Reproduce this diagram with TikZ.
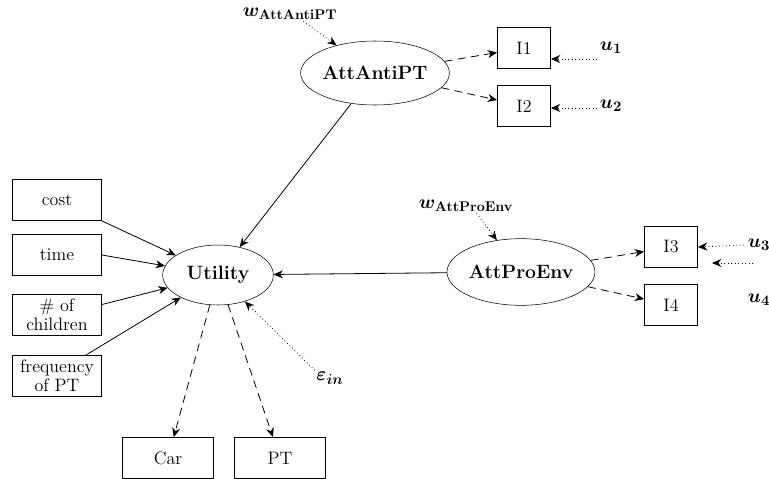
\documentclass[tikz,border=0pt]{standalone}
\usepackage{amsmath, amssymb}
\usepackage{fontspec}
\usepackage{bm}
\usepackage{tikz}
\usetikzlibrary{
  arrows.meta, positioning, shapes.geometric, calc
}

\tikzset{
  latent/.style={ellipse, draw, thin, inner sep=0pt, font=\fontsize{14.5}{16}\selectfont\bfseries},
  obs/.style={rectangle, draw, thin, inner sep=1pt, align=center, font=\fontsize{13.5}{14.5}\selectfont},
  causal/.style={-{Stealth[length=7pt,width=6pt]}, semithick},
  loading/.style={-{Stealth[length=7pt,width=6pt]}, semithick, dash pattern=on 6pt off 4pt},
  errarrow/.style={-{Stealth[length=7pt,width=6pt]}, semithick, dotted},
  errlabel/.style={font=\fontsize{15}{16}\selectfont, inner sep=1pt}
}

\begin{document}
\begin{tikzpicture}[x=0.75pt, y=-0.75pt]
  \useasboundingbox (0,0) rectangle (769,479);

  % latent variables
  \node[latent, minimum width=102pt, minimum height=48pt] (anti) at (375,73) {AttAntiPT};
  \node[latent, minimum width=101pt, minimum height=50pt] (proenv) at (521,272) {AttProEnv};
  \node[latent, minimum width=83pt, minimum height=45pt] (util) at (218,275) {Utility};

  % indicators
  \node[obs, minimum width=40pt, minimum height=31pt] (i1) at (524,48) {I1};
  \node[obs, minimum width=40pt, minimum height=31pt] (i2) at (524,106) {I2};
  \node[obs, minimum width=40pt, minimum height=31pt] (i3) at (671,247) {I3};
  \node[obs, minimum width=40pt, minimum height=31pt] (i4) at (671,305) {I4};

  % explanatory variables
  \node[obs, minimum width=67pt, minimum height=31pt] (cost) at (57,200) {cost};
  \node[obs, minimum width=67pt, minimum height=31pt] (time) at (57,255) {time};
  \node[obs, minimum width=67pt, minimum height=31pt] (kids) at (57,315) {\# of\\children};
  \node[obs, minimum width=67pt, minimum height=31pt] (freq) at (57,376) {frequency\\of PT};

  % choices
  \node[obs, minimum width=68pt, minimum height=31pt] (car) at (168,458) {Car};
  \node[obs, minimum width=68pt, minimum height=31pt] (pt) at (280,458) {PT};

  % error terms
  \node[errlabel] (wanti) at (290,14) {$\bm{w}_{\textbf{AttAntiPT}}$};
  \node[errlabel] (wpro) at (466,206) {$\bm{w}_{\textbf{AttProEnv}}$};
  \node[errlabel] (u1) at (611,48) {$\bm{u_1}$};
  \node[errlabel] (u2) at (611,106) {$\bm{u_2}$};
  \node[errlabel] (u3) at (759,245) {$\bm{u_3}$};
  \node[errlabel] (u4) at (759,300) {$\bm{u_4}$};
  \node[errlabel] (eps) at (330,378) {$\bm{\varepsilon_{in}}$};
  \coordinate (u4tip) at (712,263);

  % structural paths
  \draw[causal] (anti) -- (util);
  \draw[causal] (proenv) -- (util);
  \draw[causal] (cost.south east) -- (util);
  \draw[causal] (time.east) -- (util);
  \draw[causal] ($(kids.north east)!0.25!(kids.south east)$) -- (util);
  \draw[causal] (freq.north east) ++(-12pt,0) -- (util);

  % measurement
  \draw[loading] (anti) -- (i1);
  \draw[loading] (anti) -- (i2);
  \draw[loading] (proenv) -- (i3);
  \draw[loading] (proenv) -- (i4);
  \draw[loading] (util) -- (car);
  \draw[loading] (util) -- (pt);

  % errors
  \draw[errarrow] (wanti.south) ++(10pt,0) -- (anti);
  \draw[errarrow] (wpro.south) ++(8pt,0) -- (proenv);
  \draw[errarrow] (597,59) -- (i1.east |- 0,59);
  \draw[errarrow] (597,108) -- (i2.east |- 0,108);
  \draw[errarrow] (744,245) -- (i3.east);
  \draw[errarrow] (753,263) -- (u4tip);
  \draw[errarrow] (eps.north west) -- (util);
\end{tikzpicture}
\end{document}
